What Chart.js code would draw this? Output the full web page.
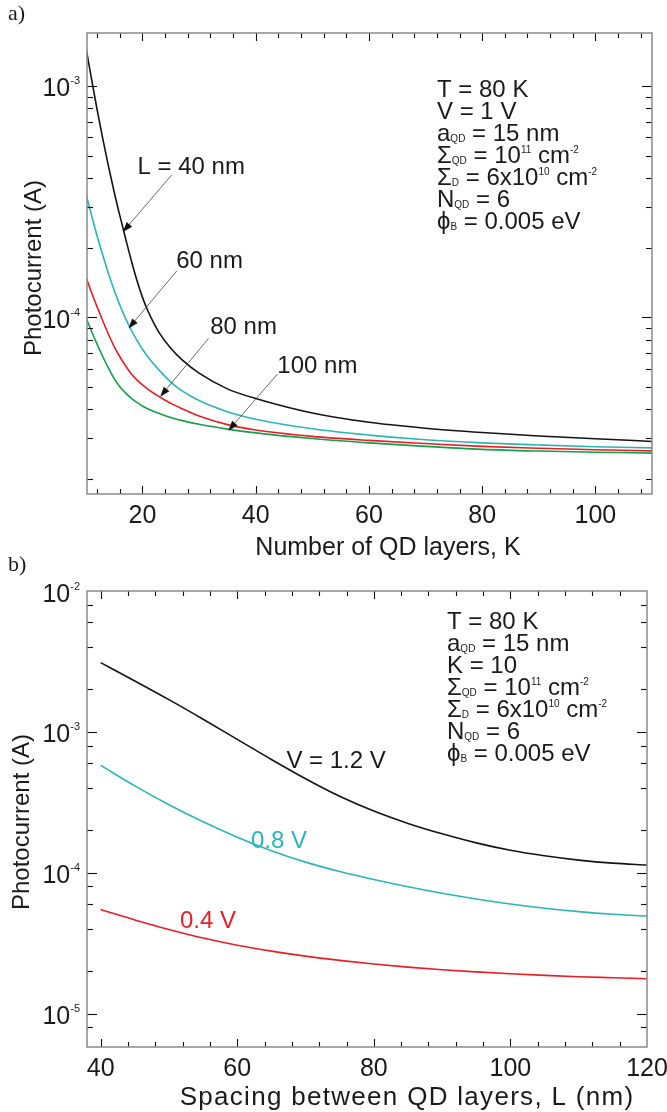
<!DOCTYPE html>
<html>
<head>
<meta charset="utf-8">
<script src="https://cdn.jsdelivr.net/npm/chart.js@4.4.0/dist/chart.umd.min.js"></script>
<style>
  html, body { margin: 0; padding: 0; background: #fff; }
  body { width: 667px; height: 1112px; position: relative; overflow: hidden; }
  canvas { position: absolute; left: 0; }
  #chartA { top: 0; width: 667px; height: 562px; }
  #chartB { top: 548px; width: 667px; height: 564px; }
</style>
</head>
<body>
<canvas id="chartA" width="667" height="562"></canvas>
<canvas id="chartB" width="667" height="564"></canvas>
<script>
// ---- panel a) photocurrent vs number of layers ----
const layersK = [10, 11, 12, 13, 14, 15, 16, 17, 18, 19, 20, 21, 22, 23, 25, 27, 30, 35, 40, 50, 60, 70, 80, 90, 100, 110];
const currentL40 = [1.476e-3, 1.069e-3, 7.87e-4, 5.89e-4, 4.49e-4, 3.48e-4, 2.75e-4, 2.20e-4, 1.77e-4, 1.45e-4, 1.22e-4, 1.06e-4, 9.45e-5, 8.55e-5, 7.35e-5, 6.55e-5, 5.74e-5, 4.91e-5, 4.46e-5, 3.86e-5, 3.52e-5, 3.32e-5, 3.18e-5, 3.07e-5, 2.99e-5, 2.91e-5];
const currentL60 = [3.44e-4, 2.76e-4, 2.24e-4, 1.85e-4, 1.545e-4, 1.31e-4, 1.13e-4, 9.9e-5, 8.83e-5, 7.98e-5, 7.28e-5, 6.73e-5, 6.28e-5, 5.89e-5, 5.25e-5, 4.81e-5, 4.37e-5, 3.91e-5, 3.63e-5, 3.30e-5, 3.10e-5, 2.96e-5, 2.87e-5, 2.81e-5, 2.76e-5, 2.73e-5];
const currentL80 = [1.50e-4, 1.28e-4, 1.107e-4, 9.64e-5, 8.43e-5, 7.48e-5, 6.76e-5, 6.18e-5, 5.70e-5, 5.37e-5, 5.11e-5, 4.89e-5, 4.70e-5, 4.54e-5, 4.25e-5, 4.03e-5, 3.75e-5, 3.44e-5, 3.26e-5, 3.06e-5, 2.94e-5, 2.85e-5, 2.77e-5, 2.72e-5, 2.68e-5, 2.65e-5];
const currentL100 = [1.0e-4, 8.71e-5, 7.64e-5, 6.76e-5, 6.03e-5, 5.44e-5, 5.02e-5, 4.72e-5, 4.48e-5, 4.29e-5, 4.14e-5, 4.02e-5, 3.92e-5, 3.84e-5, 3.69e-5, 3.58e-5, 3.45e-5, 3.29e-5, 3.17e-5, 2.995e-5, 2.87e-5, 2.77e-5, 2.69e-5, 2.645e-5, 2.615e-5, 2.59e-5];

// ---- panel b) photocurrent vs layer spacing ----
const spacingL = [40, 45, 50, 55, 60, 65, 70, 75, 80, 85, 90, 95, 100, 105, 110, 115, 120];
const currentV12 = [3.10e-3, 2.30e-3, 1.694e-3, 1.230e-3, 8.85e-4, 6.37e-4, 4.65e-4, 3.49e-4, 2.74e-4, 2.24e-4, 1.89e-4, 1.63e-4, 1.445e-4, 1.32e-4, 1.23e-4, 1.17e-4, 1.135e-4];
const currentV08 = [5.79e-4, 4.14e-4, 3.04e-4, 2.30e-4, 1.79e-4, 1.435e-4, 1.19e-4, 1.02e-4, 8.95e-5, 7.96e-5, 7.16e-5, 6.52e-5, 6.0e-5, 5.6e-5, 5.3e-5, 5.08e-5, 4.93e-5];
const currentV04 = [5.48e-5, 4.63e-5, 3.96e-5, 3.44e-5, 3.06e-5, 2.78e-5, 2.56e-5, 2.39e-5, 2.25e-5, 2.14e-5, 2.05e-5, 1.98e-5, 1.92e-5, 1.87e-5, 1.83e-5, 1.80e-5, 1.77e-5];

// ---- ticks ----
const topXTicks = [12, 16, 20, 24, 28, 32, 36, 40, 44, 48, 52, 56, 60, 64, 68, 72, 76, 80, 84, 88, 92, 96, 100, 104, 108];
const topXLabels = [20, 40, 60, 80, 100];
const topYTicks = [2e-5, 3e-5, 4e-5, 5e-5, 6e-5, 7e-5, 8e-5, 9e-5, 1e-4, 2e-4, 3e-4, 4e-4, 5e-4, 6e-4, 7e-4, 8e-4, 9e-4, 1e-3];
const topYLabels = [1e-4, 1e-3];
const topYExps = ['-4', '-3'];
const botXTicks = [40, 44, 48, 52, 56, 60, 64, 68, 72, 76, 80, 84, 88, 92, 96, 100, 104, 108, 112, 116];
const botXLabels = [40, 60, 80, 100, 120];
const botYTicks = [8e-6, 1e-5, 2e-5, 4e-5, 6e-5, 8e-5, 1e-4, 2e-4, 4e-4, 6e-4, 8e-4, 1e-3, 2e-3, 4e-3, 6e-3, 8e-3];
const botYLabels = [1e-5, 1e-4, 1e-3, 1e-2];
const botYExps = ['-5', '-4', '-3', '-2'];

const FONT = '"Liberation Sans", Arial, Helvetica, sans-serif';
const BLACK = '#141414', CYAN = '#2ab6b6', RED = '#ec1c24', GREEN = '#13a04a';

function pts(xs, ys) {
    return xs.map((x, i) => ({ x: x, y: ys[i] }));
}

// text with sub/superscripts: parts = [[text, kind], ...]
function drawRich(ctx, x, y, parts, size, opt) {
    opt = opt || {};
    const small = opt.small || Math.round(size * 0.44);
    const supUp = opt.supUp || size * 0.42;
    const segs = parts.map(p => {
        const kind = p[1] || '';
        const fs = kind ? small : size;
        ctx.font = fs + 'px ' + FONT;
        return { t: p[0], kind: kind, fs: fs, w: ctx.measureText(p[0]).width };
    });
    const total = segs.reduce((s, g) => s + g.w, 0);
    let cx = opt.align === 'right' ? x - total : x;
    ctx.textAlign = 'left';
    ctx.textBaseline = 'alphabetic';
    segs.forEach(g => {
        ctx.font = g.fs + 'px ' + FONT;
        const dy = g.kind === 'sub' ? 1 : (g.kind === 'sup' ? -supUp : 0);
        ctx.fillText(g.t, cx, y + dy);
        cx += g.w;
    });
}

function arrow(ctx, x1, y1, x2, y2) {
    const ang = Math.atan2(y2 - y1, x2 - x1), L = 10, W = 3.6;
    ctx.strokeStyle = '#444';
    ctx.lineWidth = 0.8;
    ctx.beginPath();
    ctx.moveTo(x1, y1);
    ctx.lineTo(x2 - 6 * Math.cos(ang), y2 - 6 * Math.sin(ang));
    ctx.stroke();
    ctx.fillStyle = '#111';
    ctx.beginPath();
    ctx.moveTo(x2, y2);
    ctx.lineTo(x2 - L * Math.cos(ang) + W * Math.sin(ang), y2 - L * Math.sin(ang) - W * Math.cos(ang));
    ctx.lineTo(x2 - L * Math.cos(ang) - W * Math.sin(ang), y2 - L * Math.sin(ang) + W * Math.cos(ang));
    ctx.closePath();
    ctx.fill();
}

// frame with inward ticks on all sides, labels, titles, annotations
const framePlugin = {
    id: 'frame',
    afterDraw(chart, args, o) {
        const { ctx, chartArea: a } = chart;
        const x = chart.scales.x, y = chart.scales.y;
        ctx.save();

        ctx.strokeStyle = '#111';
        ctx.lineWidth = 1.1;
        const seg = (x1, y1, x2, y2) => { ctx.beginPath(); ctx.moveTo(x1, y1); ctx.lineTo(x2, y2); ctx.stroke(); };
        o.xTicks.forEach(v => {
            const px = Math.round(x.getPixelForValue(v)) + 0.5;
            const len = o.xLabels.includes(v) ? 8 : 5;
            seg(px, a.bottom, px, a.bottom - len);
            seg(px, a.top, px, a.top + len);
        });
        o.yTicks.forEach(v => {
            const py = Math.round(y.getPixelForValue(v)) + 0.5;
            const len = o.yLabels.includes(v) ? 10 : 6;
            seg(a.left, py, a.left + len, py);
            seg(a.right, py, a.right - len, py);
        });

        ctx.strokeStyle = '#8a8a8a';
        ctx.lineWidth = 1.5;
        ctx.strokeRect(a.left, a.top, a.right - a.left, a.bottom - a.top);

        // tick labels
        ctx.fillStyle = '#1a1a1a';
        ctx.font = '25px ' + FONT;
        ctx.textAlign = 'center';
        ctx.textBaseline = 'alphabetic';
        o.xLabels.forEach(v => {
            ctx.fillText(String(v), x.getPixelForValue(v), a.bottom + 29);
        });
        o.yLabels.forEach((v, i) => {
            const py = y.getPixelForValue(v);
            drawRich(ctx, a.left - 7, py + 10.5, [['10'], [o.yExps[i], 'sup']], 25,
                { align: 'right', small: 11, supUp: 12 });
        });

        // axis titles
        ctx.font = o.xTitleFont + 'px ' + FONT;
        ctx.letterSpacing = o.xTitleSpacing + 'px';
        ctx.textAlign = 'center';
        ctx.fillText(o.xTitle, o.xTitlePos[0], o.xTitlePos[1]);
        ctx.letterSpacing = '0px';
        ctx.font = '24px ' + FONT;
        ctx.save();
        ctx.translate(o.yTitlePos[0], o.yTitlePos[1]);
        ctx.rotate(-Math.PI / 2);
        ctx.textBaseline = 'middle';
        ctx.fillText('Photocurrent (A)', 0, 0);
        ctx.restore();

        // panel letter
        ctx.font = '22px "Liberation Serif", "Times New Roman", serif';
        ctx.textAlign = 'left';
        ctx.textBaseline = 'alphabetic';
        ctx.fillText(o.panel[0], o.panel[1], o.panel[2]);

        // parameter block
        ctx.fillStyle = '#1a1a1a';
        o.params.forEach((line, i) => {
            drawRich(ctx, a.left + o.paramPos[0], a.top + o.paramPos[1] + i * 22, line, 24, { small: 10, supUp: 10 });
        });

        // curve labels and arrows
        o.labels.forEach(l => {
            ctx.fillStyle = l.color;
            ctx.font = '24px ' + FONT;
            ctx.textAlign = 'left';
            ctx.fillText(l.text, x.getPixelForValue(l.at[0]), y.getPixelForValue(l.at[1]));
        });
        o.arrows.forEach(r => {
            arrow(ctx, x.getPixelForValue(r.from[0]), y.getPixelForValue(r.from[1]),
                x.getPixelForValue(r.to[0]), y.getPixelForValue(r.to[1]));
        });
        ctx.restore();
    }
};

function makeChart(id, datasets, xRange, yRange, padding, frame) {
    return new Chart(document.getElementById(id), {
        type: 'line',
        data: { datasets: datasets },
        options: {
            responsive: false,
            animation: false,
            devicePixelRatio: 1,
            layout: { padding: padding },
            scales: {
                x: { type: 'linear', display: false, min: xRange[0], max: xRange[1] },
                y: { type: 'logarithmic', display: false, min: yRange[0], max: yRange[1] }
            },
            elements: {
                point: { radius: 0 },
                line: { borderWidth: 1.6, cubicInterpolationMode: 'monotone', fill: false }
            },
            plugins: {
                legend: { display: false },
                tooltip: { enabled: false },
                frame: frame
            }
        },
        plugins: [framePlugin]
    });
}

const paramsA = [
    [['T = 80 K']],
    [['V = 1 V']],
    [['a'], ['QD', 'sub'], [' = 15 nm']],
    [['\u03A3'], ['QD', 'sub'], [' = 10'], ['11', 'sup'], [' cm'], ['-2', 'sup']],
    [['\u03A3'], ['D', 'sub'], [' = 6x10'], ['10', 'sup'], [' cm'], ['-2', 'sup']],
    [['N'], ['QD', 'sub'], [' = 6']],
    [['\u03D5'], ['B', 'sub'], [' = 0.005 eV']]
];
const paramsB = [
    [['T = 80 K']],
    [['a'], ['QD', 'sub'], [' = 15 nm']],
    [['K = 10']],
    [['\u03A3'], ['QD', 'sub'], [' = 10'], ['11', 'sup'], [' cm'], ['-2', 'sup']],
    [['\u03A3'], ['D', 'sub'], [' = 6x10'], ['10', 'sup'], [' cm'], ['-2', 'sup']],
    [['N'], ['QD', 'sub'], [' = 6']],
    [['\u03D5'], ['B', 'sub'], [' = 0.005 eV']]
];

makeChart('chartA', [
    { data: pts(layersK, currentL40), borderColor: BLACK },
    { data: pts(layersK, currentL60), borderColor: CYAN },
    { data: pts(layersK, currentL80), borderColor: RED },
    { data: pts(layersK, currentL100), borderColor: GREEN }
], [10.2, 110], [1.725e-5, 1.693e-3], { left: 87, top: 33, right: 15, bottom: 68 }, {
    xTicks: topXTicks, xLabels: topXLabels,
    yTicks: topYTicks, yLabels: topYLabels, yExps: topYExps,
    xTitle: 'Number of QD layers, K', xTitlePos: [388, 555], xTitleFont: 25, xTitleSpacing: 0,
    yTitlePos: [34, 268],
    panel: ['a)', 8, 20],
    params: paramsA, paramPos: [350, 64],
    labels: [
        { text: 'L = 40 nm', at: [19.12, 4.16e-4], color: '#1a1a1a' },
        { text: '60 nm', at: [25.96, 1.64e-4], color: '#1a1a1a' },
        { text: '80 nm', at: [31.97, 8.47e-5], color: '#1a1a1a' },
        { text: '100 nm', at: [43.82, 5.73e-5], color: '#1a1a1a' }
    ],
    arrows: [
        { from: [25.15, 4.12e-4], to: [16.54, 2.34e-4] },
        { from: [26.08, 1.59e-4], to: [17.53, 8.96e-5] },
        { from: [31.67, 8.11e-5], to: [23.13, 4.54e-5] },
        { from: [43.82, 5.68e-5], to: [35.16, 3.24e-5] }
    ]
});

makeChart('chartB', [
    { data: pts(spacingL, currentV12), borderColor: BLACK },
    { data: pts(spacingL, currentV08), borderColor: CYAN },
    { data: pts(spacingL, currentV04), borderColor: RED }
], [38, 120], [5.8e-6, 1e-2], { left: 87, top: 43, right: 20, bottom: 65 }, {
    xTicks: botXTicks, xLabels: botXLabels,
    yTicks: botYTicks, yLabels: botYLabels, yExps: botYExps,
    xTitle: 'Spacing between QD layers, L (nm)', xTitlePos: [407, 557], xTitleFont: 26, xTitleSpacing: 1.3,
    yTitlePos: [22, 274],
    panel: ['b)', 8, 23],
    params: paramsB, paramPos: [360, 38],
    labels: [
        { text: 'V = 1.2 V', at: [67.2, 5.57e-4], color: '#1a1a1a' },
        { text: '0.8 V', at: [62.0, 1.50e-4], color: CYAN },
        { text: '0.4 V', at: [51.6, 4.03e-5], color: RED }
    ],
    arrows: []
});
</script>
</body>
</html>
